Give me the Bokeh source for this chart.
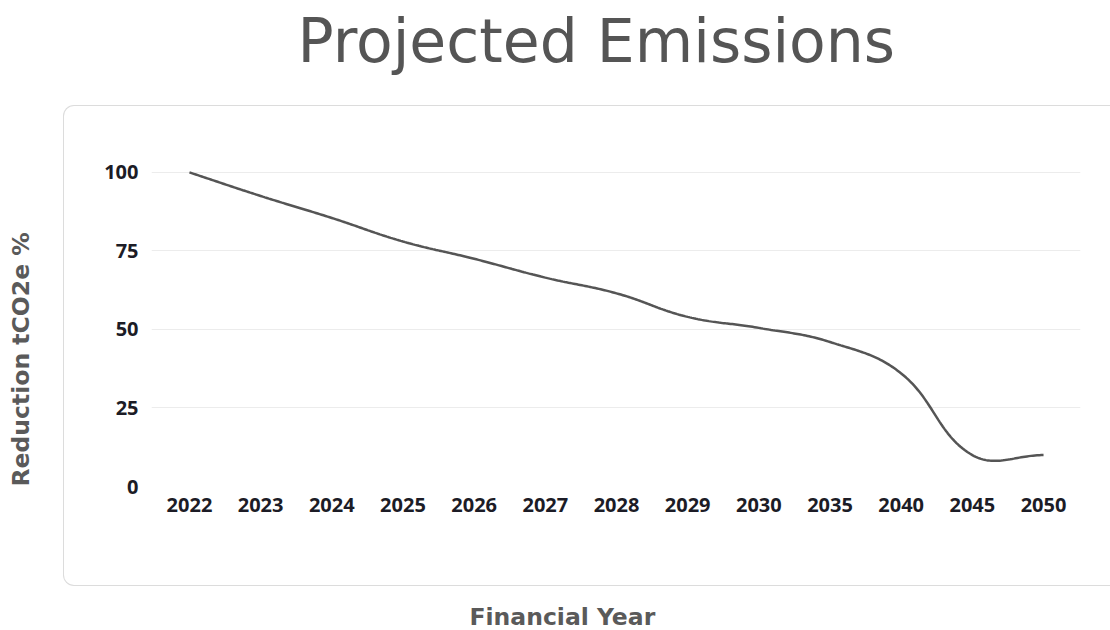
import math
import numpy as np
from bokeh.plotting import figure
from bokeh.models import FixedTicker, Title, InlineStyleSheet
from bokeh.embed import file_html
from bokeh.resources import INLINE

# ---------------- data ----------------
years = ["2022", "2023", "2024", "2025", "2026", "2027", "2028",
         "2029", "2030", "2035", "2040", "2045", "2050"]
reduction = [100, 92.5, 85.5, 78, 72.5, 66.5, 61.5, 54, 50.5, 46, 36, 10, 10]
y_ticks = [0, 25, 50, 75, 100]

title_text = "Projected Emissions"
y_title = "Reduction tCO2e %"
x_title = "Financial Year"

# ---------------- layout (pixels) ----------------
FIG_W, FIG_H = 1110, 630
FR_L, FR_R, FR_T, FR_B = 150, 1080, 140, 487
X_FIRST, X_STEP = 188, 71.25        # pixel of first category, spacing
Y_PER = 3.15                         # pixels per unit

x_start = -(X_FIRST - FR_L) / X_STEP
x_end = (len(years) - 1) + (FR_R - (X_FIRST + X_STEP * (len(years) - 1))) / X_STEP
y_start = 0.0
y_end = (FR_B - FR_T) / Y_PER


# ---------------- smooth curve (Chart.js style spline, tension 0.4) ----------------
def spline(xs, ys, tension=0.4, n=40):
    px = np.asarray(xs, float) * X_STEP
    py = np.asarray(ys, float) * Y_PER
    N = len(px)
    cp_in, cp_out = [], []
    for i in range(N):
        a = max(i - 1, 0)
        b = min(i + 1, N - 1)
        d01 = math.hypot(px[i] - px[a], py[i] - py[a])
        d12 = math.hypot(px[b] - px[i], py[b] - py[i])
        tot = d01 + d12
        s01 = d01 / tot if tot else 0
        s12 = d12 / tot if tot else 0
        fa, fb = tension * s01, tension * s12
        cp_in.append((px[i] - fa * (px[b] - px[a]), py[i] - fa * (py[b] - py[a])))
        cp_out.append((px[i] + fb * (px[b] - px[a]), py[i] + fb * (py[b] - py[a])))
    outx, outy = [], []
    t = np.linspace(0, 1, n)
    for i in range(N - 1):
        p0 = np.array([px[i], py[i]])
        p1 = np.array(cp_out[i])
        p2 = np.array(cp_in[i + 1])
        p3 = np.array([px[i + 1], py[i + 1]])
        pts = ((1 - t) ** 3)[:, None] * p0 + (3 * (1 - t) ** 2 * t)[:, None] * p1 \
            + (3 * (1 - t) * t ** 2)[:, None] * p2 + (t ** 3)[:, None] * p3
        if i > 0:
            pts = pts[1:]
        outx.extend(pts[:, 0] / X_STEP)
        outy.extend(pts[:, 1] / Y_PER)
    return outx, outy


xi = list(range(len(years)))
cx, cy = spline(xi, reduction)

# ---------------- figure ----------------
panel_css = InlineStyleSheet(css="""
:host { position: relative; }
:host::after {
  content: ""; position: absolute; left: 63px; top: 105px;
  width: 1047px; height: 481px; box-sizing: border-box;
  border: 1.5px solid #dcdcdc; border-right: none;
  border-radius: 11px 0 0 11px; pointer-events: none;
}
""")

p = figure(width=FIG_W, height=FIG_H, title=None,
           x_range=(x_start, x_end), y_range=(y_start, y_end),
           output_backend="svg", toolbar_location=None,
           min_border_left=0, min_border_right=FIG_W - FR_R,
           min_border_top=0, min_border_bottom=0,
           stylesheets=[panel_css])
p.background_fill_color = "white"
p.border_fill_color = "white"
p.outline_line_color = None

p.line(cx, cy, line_color="#555555", line_width=2.5)

# axes
TICK_FONT = "Open Sans"
p.xaxis.ticker = FixedTicker(ticks=xi)
p.xaxis.major_label_overrides = {i: y for i, y in enumerate(years)}
p.yaxis.ticker = FixedTicker(ticks=y_ticks)
for ax in (p.xaxis[0], p.yaxis[0]):
    ax.axis_line_color = None
    ax.major_tick_line_color = None
    ax.minor_tick_line_color = None
    ax.major_tick_out = 0
    ax.major_tick_in = 0
    ax.major_label_text_font = TICK_FONT
    ax.major_label_text_font_style = "bold"
    ax.major_label_text_font_size = "20px"
    ax.major_label_text_color = "#1c1c26"
p.xaxis.major_label_standoff = 11
p.yaxis.major_label_standoff = 13

p.xgrid.visible = False
p.ygrid.grid_line_color = "#ececec"
p.ygrid.grid_line_width = 1

# texts (spacer titles keep the real titles where the reference shows them)
p.add_layout(Title(text=" ", text_font_size="1px", standoff=55), "above")
p.add_layout(Title(text=title_text, align="left", offset=146,
                   vertical_align="top", standoff=10,
                   text_font="DejaVu Sans", text_font_style="normal",
                   text_font_size="60px", text_color="#555555"), "above")

p.add_layout(Title(text=" ", text_font_size="1px", standoff=59), "left")
p.add_layout(Title(text=y_title, align="left", offset=0,
                   vertical_align="bottom", standoff=9,
                   text_font="DejaVu Sans", text_font_style="bold",
                   text_font_size="23.5px", text_color="#5a5a5a"), "left")

p.add_layout(Title(text=" ", text_font_size="1px", standoff=83), "below")
p.add_layout(Title(text=x_title, align="left", offset=318,
                   vertical_align="bottom", standoff=0,
                   text_font="DejaVu Sans", text_font_style="bold",
                   text_font_size="23.5px", text_color="#5a5a5a"), "below")

open("out.html", "w").write(file_html(p, INLINE))
